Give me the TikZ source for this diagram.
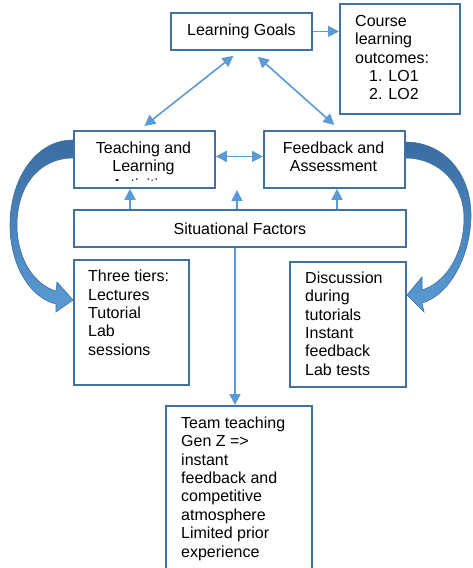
\documentclass[tikz,border=0pt]{standalone}
\usepackage{fontspec}
\setmainfont{Liberation Sans}
\usetikzlibrary{arrows.meta,calc}
\definecolor{boxline}{HTML}{41719C}
\definecolor{arrblue}{HTML}{5B9BD5}
\definecolor{curvetop}{HTML}{3A6CA3}
\begin{document}
\begin{tikzpicture}[x=1pt,y=-1pt,
  box/.style={draw=boxline,line width=1.8pt,fill=white,rectangle,inner sep=0pt,anchor=north west},
  txt/.style={inner sep=0pt,font={\fontsize{16}{18.4}\selectfont},align=left,anchor=north west},
  ctxt/.style={inner sep=0pt,font={\fontsize{16}{18.4}\selectfont},align=center,anchor=north},
  arr/.style={draw=arrblue,line width=1.6pt,-{Triangle[length=11pt,width=11pt]}},
  darr/.style={draw=arrblue,line width=1.6pt,{Triangle[length=11pt,width=11pt]}-{Triangle[length=11pt,width=11pt]}},
  curvearrow/.style={top color=curvetop,bottom color=arrblue,draw=boxline,line width=0.6pt}]
\useasboundingbox (0,0) rectangle (472,568);
\clip (0,0) rectangle (472,568);
\fill[white] (0,0) rectangle (472,568);

% curved block arrows
\shadedraw[curvearrow] (73,140) .. controls (35,140) and (10,180) .. (10,225)
  .. controls (10,265) and (30,298) .. (56,304) -- (56,312) -- (73,300) -- (57,282) -- (56,291)
  .. controls (35,285) and (17,260) .. (17,225) .. controls (17,185) and (40,158) .. (73,158) -- cycle;
\shadedraw[curvearrow] (405,142) .. controls (445,142) and (471,175) .. (471,215)
  .. controls (471,255) and (450,295) .. (422,303) -- (424,312) -- (407,295) -- (422,277) -- (422,290)
  .. controls (445,283) and (464,255) .. (464,218) .. controls (464,185) and (440,158) .. (405,158) -- cycle;

% boxes
\node[box,minimum width=141,minimum height=37,font={\fontsize{16}{18.4}\selectfont}] (lg) at (170,12) {Learning Goals};
\node[box,minimum width=120,minimum height=110] (co) at (339,3) {};
\node[box,minimum width=141,minimum height=57] (tla) at (73,130) {};
\node[box,minimum width=141,minimum height=57] (fa) at (263,130) {};
\node[box,minimum width=332,minimum height=37,font={\fontsize{16}{18.4}\selectfont}] (sf) at (73,209) {Situational Factors};
\node[box,minimum width=115,minimum height=125] (tt) at (73,259) {};
\node[box,minimum width=116,minimum height=125] (ds) at (289,261) {};
\node[box,minimum width=146,minimum height=200] (tm) at (165,405) {};

% texts
\node[txt] (coT) at (355,15) {Course\\learning\\outcomes:\\\hspace*{14pt}1. LO1\\\hspace*{14pt}2. LO2};
\begin{scope}
  \clip ($(tla.north west)+(2,2)$) rectangle ($(tla.south east)+(-2,-8.5)$);
  \node[ctxt] (tlaT) at (143.5,141.5) {Teaching and\\Learning\\Activities};
\end{scope}
\node[ctxt] (faT) at (333.5,141.5) {Feedback and\\Assessment};
\node[txt] (ttT) at (88,270) {Three tiers:\\Lectures\\Tutorial\\Lab\\sessions};
\node[txt] (dsT) at (305,271.5) {Discussion\\during\\tutorials\\Instant\\feedback\\Lab tests};
\node[txt] (tmT) at (181,416.5) {Team teaching\\Gen Z =>\\instant\\feedback and\\competitive\\atmosphere\\Limited prior\\experience};

% connectors
\draw[arr] (lg.east) -- (lg.east -| co.west);
\draw[darr] ([shift={(-8,5)}]lg.south) -- ([shift={(0,-4)}]tla.north);
\draw[darr] ([shift={(16.5,6)}]lg.south) -- ([shift={(0,-5)}]fa.north);
\draw[darr] ([yshift=3pt]tla.east) -- ([yshift=3pt]fa.west);
\coordinate (u1) at (130,188);
\coordinate (u2) at (237,190);
\coordinate (u3) at (337,188);
\draw[arr] (sf.north -| u1) -- (tla.south -| u1);
\draw[arr] (sf.north -| u2) -- (u2);
\draw[arr] (sf.north -| u3) -- (fa.south -| u3);
\coordinate (d1) at (235,300);
\draw[arr] (sf.south -| d1) -- (tm.north -| d1);
\end{tikzpicture}
\end{document}
